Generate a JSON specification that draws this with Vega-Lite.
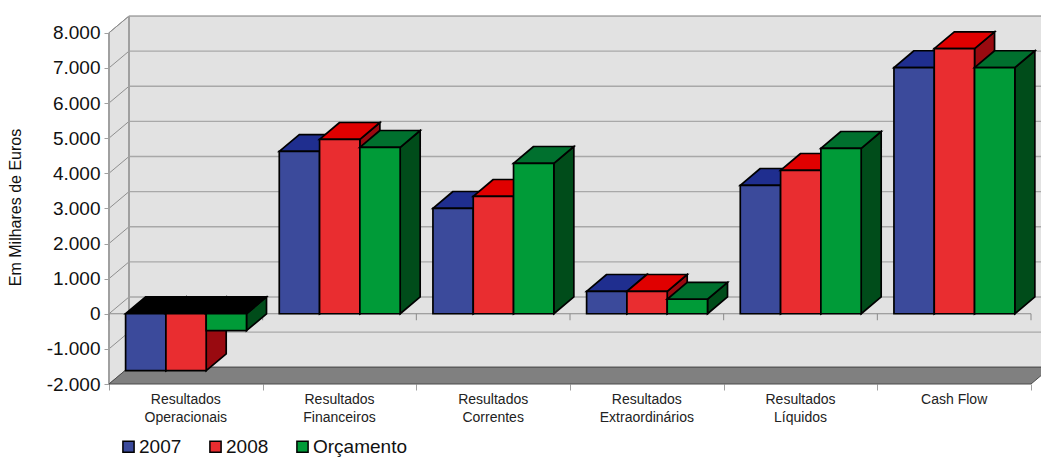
{
  "$schema": "https://vega.github.io/schema/vega-lite/v6.json",
  "width": 932,
  "height": 368,
  "padding": {"left": 109, "top": 16, "right": 0, "bottom": 74},
  "autosize": "none",
  "background": "white",
  "config": {"view": {"stroke": null}, "font": "Liberation Sans"},
  "data": {"values": [
    {"categoria": "Resultados\nOperacionais", "serie": "2007", "valor": -1620},
    {"categoria": "Resultados\nOperacionais", "serie": "2008", "valor": -1620},
    {"categoria": "Resultados\nOperacionais", "serie": "Orçamento", "valor": -480},
    {"categoria": "Resultados\nFinanceiros", "serie": "2007", "valor": 4625},
    {"categoria": "Resultados\nFinanceiros", "serie": "2008", "valor": 4967},
    {"categoria": "Resultados\nFinanceiros", "serie": "Orçamento", "valor": 4740},
    {"categoria": "Resultados\nCorrentes", "serie": "2007", "valor": 3003},
    {"categoria": "Resultados\nCorrentes", "serie": "2008", "valor": 3345},
    {"categoria": "Resultados\nCorrentes", "serie": "Orçamento", "valor": 4284},
    {"categoria": "Resultados\nExtraordinários", "serie": "2007", "valor": 640},
    {"categoria": "Resultados\nExtraordinários", "serie": "2008", "valor": 640},
    {"categoria": "Resultados\nExtraordinários", "serie": "Orçamento", "valor": 413},
    {"categoria": "Resultados\nLíquidos", "serie": "2007", "valor": 3658},
    {"categoria": "Resultados\nLíquidos", "serie": "2008", "valor": 4085},
    {"categoria": "Resultados\nLíquidos", "serie": "Orçamento", "valor": 4711},
    {"categoria": "Cash Flow", "serie": "2007", "valor": 7010},
    {"categoria": "Cash Flow", "serie": "2008", "valor": 7550},
    {"categoria": "Cash Flow", "serie": "Orçamento", "valor": 7010}
  ]},
  "transform": [
    {"calculate": "indexof(['Resultados\\nOperacionais','Resultados\\nFinanceiros','Resultados\\nCorrentes','Resultados\\nExtraordinários','Resultados\\nLíquidos','Cash Flow'], datum.categoria)", "as": "grupo"},
    {"calculate": "indexof(['2007','2008','Orçamento'], datum.serie)", "as": "ordem"},
    {"calculate": "16.6 + datum.grupo * 153.67 + datum.ordem * 40.3", "as": "x0"},
    {"calculate": "datum.x0 + 40.3", "as": "x1"},
    {"calculate": "max(datum.valor, 0)", "as": "alto"},
    {"calculate": "min(datum.valor, 0)", "as": "baixo"},
    {"calculate": "153.67 * (datum.grupo + 0.5)", "as": "centro"},
    {"calculate": "[0, 1]", "as": "prof"}
  ],
  "layer": [
    {
      "description": "back wall",
      "data": {"values": [{"parede": "fundo"}]},
      "transform": [
        {"calculate": "20", "as": "xa"},
        {"calculate": "952", "as": "xb"},
        {"calculate": "-1522", "as": "ya"},
        {"calculate": "8478", "as": "yb"}
      ],
      "mark": {"type": "rect", "fill": "#E2E2E2", "stroke": "#7A7A7A", "strokeWidth": 1},
      "encoding": {
        "x": {"field": "xa", "type": "quantitative", "scale": {"domain": [0, 932], "nice": false, "zero": false},
          "axis": {"title": null, "values": [0, 153.67, 307.33, 461, 614.67, 768.33, 922], "tickCount": 7, "labels": false, "grid": false, "domain": false, "ticks": true, "tickSize": 6, "tickColor": "#A0A0A0", "tickWidth": 1}},
        "x2": {"field": "xb"},
        "y": {"field": "ya", "type": "quantitative", "scale": {"domain": [-2000, 8478], "nice": false, "zero": false},
          "axis": {"title": "Em Milhares de Euros", "titleFontSize": 16, "titleFontWeight": "normal", "titleColor": "#111", "titleX": -86, "titleY": 191, "values": [-2000, -1000, 0, 1000, 2000, 3000, 4000, 5000, 6000, 7000, 8000], "tickCount": 11, "labelOverlap": false, "labelExpr": "replace(replace(format(datum.value, ','), ',', '.'), '−', '-')", "labelFontSize": 19, "labelColor": "#111", "labelPadding": 4, "grid": false, "domain": false, "tickSize": 5, "tickColor": "#A0A0A0", "tickWidth": 1}},
        "y2": {"field": "yb"}
      }
    },
    {
      "description": "left wall",
      "data": {"values": [{"prof": 0}, {"prof": 1}]},
      "transform": [
        {"calculate": "20 * datum.prof", "as": "xp"},
        {"calculate": "-2000 + 478 * datum.prof", "as": "ya"},
        {"calculate": "8000 + 478 * datum.prof", "as": "yb"}
      ],
      "mark": {"type": "area", "fill": "#E2E2E2", "stroke": "#8A8A8A", "strokeWidth": 1, "orient": "vertical"},
      "encoding": {
        "x": {"field": "xp", "type": "quantitative", "scale": {"domain": [0, 932], "nice": false, "zero": false}},
        "y": {"field": "ya", "type": "quantitative", "scale": {"domain": [-2000, 8478], "nice": false, "zero": false}},
        "y2": {"field": "yb"}
      }
    },
    {
      "description": "gridlines across the back wall",
      "data": {"values": [{"v": -1000}, {"v": 0}, {"v": 1000}, {"v": 2000}, {"v": 3000}, {"v": 4000}, {"v": 5000}, {"v": 6000}, {"v": 7000}]},
      "transform": [
        {"calculate": "datum.v + 478", "as": "yf"},
        {"calculate": "20", "as": "xa"},
        {"calculate": "952", "as": "xb"}
      ],
      "mark": {"type": "rule", "stroke": "#A8A8A8", "strokeWidth": 1.4},
      "encoding": {
        "x": {"field": "xa", "type": "quantitative", "scale": {"domain": [0, 932], "nice": false, "zero": false}},
        "x2": {"field": "xb"},
        "y": {"field": "yf", "type": "quantitative", "scale": {"domain": [-2000, 8478], "nice": false, "zero": false}}
      }
    },
    {
      "description": "gridlines climbing the left wall",
      "data": {"values": [{"v": -1000}, {"v": 0}, {"v": 1000}, {"v": 2000}, {"v": 3000}, {"v": 4000}, {"v": 5000}, {"v": 6000}, {"v": 7000}, {"v": 8000}]},
      "transform": [
        {"calculate": "datum.v + 478", "as": "yf"},
        {"calculate": "0", "as": "xa"},
        {"calculate": "20", "as": "xb"}
      ],
      "mark": {"type": "rule", "stroke": "#8F8F8F", "strokeWidth": 1},
      "encoding": {
        "x": {"field": "xa", "type": "quantitative", "scale": {"domain": [0, 932], "nice": false, "zero": false}},
        "x2": {"field": "xb"},
        "y": {"field": "v", "type": "quantitative", "scale": {"domain": [-2000, 8478], "nice": false, "zero": false}},
        "y2": {"field": "yf"}
      }
    },
    {
      "description": "vertical edges of the walls",
      "data": {"values": [{"xe": 0, "ya": -2000, "yb": 8000}, {"xe": 20, "ya": -1522, "yb": 8478}]},
      "mark": {"type": "rule", "stroke": "#A0A0A0", "strokeWidth": 2},
      "encoding": {
        "x": {"field": "xe", "type": "quantitative", "scale": {"domain": [0, 932], "nice": false, "zero": false}},
        "y": {"field": "ya", "type": "quantitative", "scale": {"domain": [-2000, 8478], "nice": false, "zero": false}},
        "y2": {"field": "yb"}
      }
    },
    {
      "description": "floor",
      "data": {"values": [{"prof": 0}, {"prof": 1}]},
      "transform": [
        {"calculate": "20 * datum.prof", "as": "xa"},
        {"calculate": "922 + 20 * datum.prof", "as": "xb"},
        {"calculate": "-2000 + 478 * datum.prof", "as": "yf"}
      ],
      "mark": {"type": "area", "fill": "#808080", "stroke": "#4A4A4A", "strokeWidth": 1, "orient": "horizontal"},
      "encoding": {
        "x": {"field": "xa", "type": "quantitative", "scale": {"domain": [0, 932], "nice": false, "zero": false}},
        "x2": {"field": "xb"},
        "y": {"field": "yf", "type": "quantitative", "scale": {"domain": [-2000, 8478], "nice": false, "zero": false}}
      }
    },
    {
      "description": "category axis line at zero",
      "data": {"values": [{"xa": 0, "xb": 922, "ya": 0}]},
      "mark": {"type": "rule", "stroke": "#8A8A8A", "strokeWidth": 1},
      "encoding": {
        "x": {"field": "xa", "type": "quantitative", "scale": {"domain": [0, 932], "nice": false, "zero": false}},
        "x2": {"field": "xb"},
        "y": {"field": "ya", "type": "quantitative", "scale": {"domain": [-2000, 8478], "nice": false, "zero": false}}
      }
    },
    {
      "description": "category ticks hanging from the zero line",
      "data": {"values": [{"xt": 0}, {"xt": 153.67}, {"xt": 307.33}, {"xt": 461}, {"xt": 614.67}, {"xt": 768.33}, {"xt": 922}]},
      "transform": [{"calculate": "0", "as": "ya"}, {"calculate": "-185", "as": "yb"}],
      "mark": {"type": "rule", "stroke": "#8A8A8A", "strokeWidth": 1},
      "encoding": {
        "x": {"field": "xt", "type": "quantitative", "scale": {"domain": [0, 932], "nice": false, "zero": false}},
        "y": {"field": "ya", "type": "quantitative", "scale": {"domain": [-2000, 8478], "nice": false, "zero": false}},
        "y2": {"field": "yb"}
      }
    },
    {
      "description": "2007 bars",
      "transform": [{"filter": "datum.serie === '2007'"}],
      "layer": [
        {
          "transform": [{"flatten": ["prof"]}, {"calculate": "datum.x1 + 20 * datum.prof", "as": "xs"}, {"calculate": "datum.baixo + 478 * datum.prof", "as": "ya"}, {"calculate": "datum.alto + 478 * datum.prof", "as": "yb"}],
          "mark": {"type": "area", "fill": "#1B2A78", "stroke": "#000", "strokeWidth": 1.7, "orient": "vertical"},
          "encoding": {
            "x": {"field": "xs", "type": "quantitative", "scale": {"domain": [0, 932], "nice": false, "zero": false}},
            "y": {"field": "ya", "type": "quantitative", "scale": {"domain": [-2000, 8478], "nice": false, "zero": false}},
            "y2": {"field": "yb"},
            "detail": {"field": "categoria"}
          }
        },
        {
          "transform": [{"flatten": ["prof"]}, {"calculate": "datum.x0 + 20 * datum.prof", "as": "xa"}, {"calculate": "datum.x1 + 20 * datum.prof", "as": "xb"}, {"calculate": "datum.alto + 478 * datum.prof", "as": "yt"}],
          "mark": {"type": "area", "stroke": "#000", "strokeWidth": 1.7, "orient": "horizontal"},
          "encoding": {
            "x": {"field": "xa", "type": "quantitative", "scale": {"domain": [0, 932], "nice": false, "zero": false}},
            "x2": {"field": "xb"},
            "y": {"field": "yt", "type": "quantitative", "scale": {"domain": [-2000, 8478], "nice": false, "zero": false}},
            "fill": {"condition": {"test": "datum.valor < 0", "value": "#000000"}, "value": "#1F2E8F"},
            "detail": {"field": "categoria"}
          }
        },
        {
          "mark": {"type": "rect", "stroke": "#000", "strokeWidth": 1.7},
          "encoding": {
            "x": {"field": "x0", "type": "quantitative", "scale": {"domain": [0, 932], "nice": false, "zero": false}},
            "x2": {"field": "x1"},
            "y": {"field": "baixo", "type": "quantitative", "scale": {"domain": [-2000, 8478], "nice": false, "zero": false}},
            "y2": {"field": "alto"},
            "fill": {"field": "serie", "type": "nominal",
              "scale": {"domain": ["2007", "2008", "Orçamento"], "range": ["#3B4A9B", "#E92D30", "#009B38"]},
              "legend": {"title": null, "orient": "none", "legendX": 10, "legendY": 421, "direction": "horizontal", "columns": 3, "columnPadding": 24, "symbolType": "square", "symbolSize": 125, "symbolStrokeColor": "#000", "symbolStrokeWidth": 1.5, "labelFontSize": 19, "labelColor": "#111", "labelOffset": 1}}
          }
        }
      ]
    },
    {
      "description": "2008 bars",
      "transform": [{"filter": "datum.serie === '2008'"}],
      "layer": [
        {
          "transform": [{"flatten": ["prof"]}, {"calculate": "datum.x1 + 20 * datum.prof", "as": "xs"}, {"calculate": "datum.baixo + 478 * datum.prof", "as": "ya"}, {"calculate": "datum.alto + 478 * datum.prof", "as": "yb"}],
          "mark": {"type": "area", "fill": "#990A10", "stroke": "#000", "strokeWidth": 1.7, "orient": "vertical"},
          "encoding": {
            "x": {"field": "xs", "type": "quantitative", "scale": {"domain": [0, 932], "nice": false, "zero": false}},
            "y": {"field": "ya", "type": "quantitative", "scale": {"domain": [-2000, 8478], "nice": false, "zero": false}},
            "y2": {"field": "yb"},
            "detail": {"field": "categoria"}
          }
        },
        {
          "transform": [{"flatten": ["prof"]}, {"calculate": "datum.x0 + 20 * datum.prof", "as": "xa"}, {"calculate": "datum.x1 + 20 * datum.prof", "as": "xb"}, {"calculate": "datum.alto + 478 * datum.prof", "as": "yt"}],
          "mark": {"type": "area", "stroke": "#000", "strokeWidth": 1.7, "orient": "horizontal"},
          "encoding": {
            "x": {"field": "xa", "type": "quantitative", "scale": {"domain": [0, 932], "nice": false, "zero": false}},
            "x2": {"field": "xb"},
            "y": {"field": "yt", "type": "quantitative", "scale": {"domain": [-2000, 8478], "nice": false, "zero": false}},
            "fill": {"condition": {"test": "datum.valor < 0", "value": "#000000"}, "value": "#E00000"},
            "detail": {"field": "categoria"}
          }
        },
        {
          "mark": {"type": "rect", "stroke": "#000", "strokeWidth": 1.7},
          "encoding": {
            "x": {"field": "x0", "type": "quantitative", "scale": {"domain": [0, 932], "nice": false, "zero": false}},
            "x2": {"field": "x1"},
            "y": {"field": "baixo", "type": "quantitative", "scale": {"domain": [-2000, 8478], "nice": false, "zero": false}},
            "y2": {"field": "alto"},
            "fill": {"field": "serie", "type": "nominal"}
          }
        }
      ]
    },
    {
      "description": "budget bars",
      "transform": [{"filter": "datum.serie === 'Orçamento'"}],
      "layer": [
        {
          "transform": [{"flatten": ["prof"]}, {"calculate": "datum.x1 + 20 * datum.prof", "as": "xs"}, {"calculate": "datum.baixo + 478 * datum.prof", "as": "ya"}, {"calculate": "datum.alto + 478 * datum.prof", "as": "yb"}],
          "mark": {"type": "area", "fill": "#004C1A", "stroke": "#000", "strokeWidth": 1.7, "orient": "vertical"},
          "encoding": {
            "x": {"field": "xs", "type": "quantitative", "scale": {"domain": [0, 932], "nice": false, "zero": false}},
            "y": {"field": "ya", "type": "quantitative", "scale": {"domain": [-2000, 8478], "nice": false, "zero": false}},
            "y2": {"field": "yb"},
            "detail": {"field": "categoria"}
          }
        },
        {
          "transform": [{"flatten": ["prof"]}, {"calculate": "datum.x0 + 20 * datum.prof", "as": "xa"}, {"calculate": "datum.x1 + 20 * datum.prof", "as": "xb"}, {"calculate": "datum.alto + 478 * datum.prof", "as": "yt"}],
          "mark": {"type": "area", "stroke": "#000", "strokeWidth": 1.7, "orient": "horizontal"},
          "encoding": {
            "x": {"field": "xa", "type": "quantitative", "scale": {"domain": [0, 932], "nice": false, "zero": false}},
            "x2": {"field": "xb"},
            "y": {"field": "yt", "type": "quantitative", "scale": {"domain": [-2000, 8478], "nice": false, "zero": false}},
            "fill": {"condition": {"test": "datum.valor < 0", "value": "#000000"}, "value": "#00702E"},
            "detail": {"field": "categoria"}
          }
        },
        {
          "mark": {"type": "rect", "stroke": "#000", "strokeWidth": 1.7},
          "encoding": {
            "x": {"field": "x0", "type": "quantitative", "scale": {"domain": [0, 932], "nice": false, "zero": false}},
            "x2": {"field": "x1"},
            "y": {"field": "baixo", "type": "quantitative", "scale": {"domain": [-2000, 8478], "nice": false, "zero": false}},
            "y2": {"field": "alto"},
            "fill": {"field": "serie", "type": "nominal"}
          }
        }
      ]
    },
    {
      "description": "category names under the floor",
      "transform": [{"filter": "datum.serie === '2007'"}, {"calculate": "-2000", "as": "base"}],
      "mark": {"type": "text", "baseline": "top", "align": "center", "dy": 9, "fontSize": 14, "lineBreak": "\n", "lineHeight": 18, "fill": "#222"},
      "encoding": {
        "x": {"field": "centro", "type": "quantitative", "scale": {"domain": [0, 932], "nice": false, "zero": false}},
        "y": {"field": "base", "type": "quantitative", "scale": {"domain": [-2000, 8478], "nice": false, "zero": false}},
        "text": {"field": "categoria"}
      }
    }
  ]
}
